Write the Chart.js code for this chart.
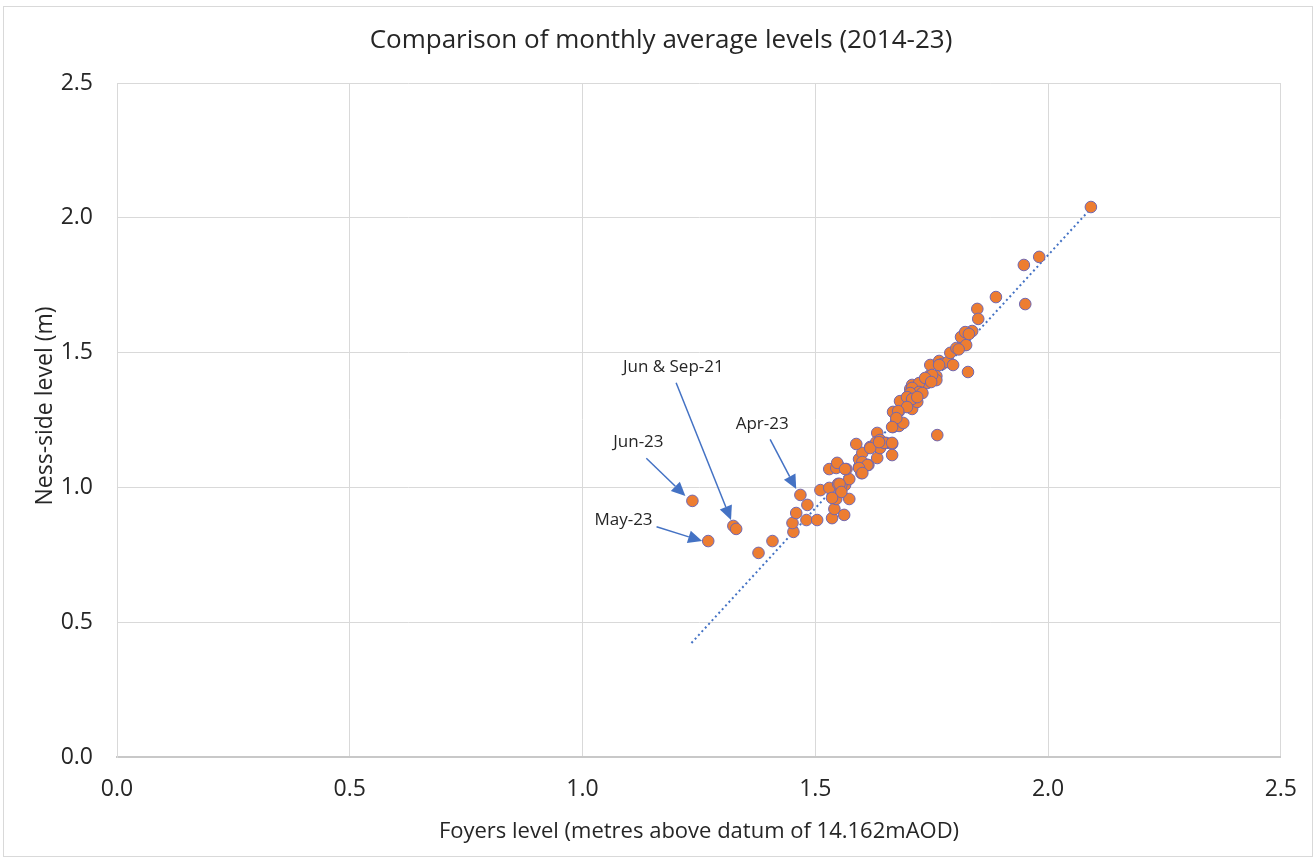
<!DOCTYPE html>
<html>
<head>
<meta charset="utf-8">
<script src="https://cdn.jsdelivr.net/npm/chart.js@4.4.1/dist/chart.umd.min.js"></script>
<style>
html,body{margin:0;padding:0;background:#ffffff;}
canvas{display:block;}
</style>
</head>
<body>
<canvas id="c" width="1316" height="859"></canvas>
<script>
// Foyers level (x) and Ness-side level (y), monthly averages 2014-23
const foyersLevel = [
  1.236,1.270,1.324,1.330,1.378,1.408,1.453,1.451,1.459,1.468,
  1.483,1.481,1.504,1.511,1.530,1.536,1.541,1.545,1.562,1.573,
  1.554,1.564,1.556,1.549,1.573,1.530,1.549,1.545,1.567,1.599,
  1.594,1.614,1.594,1.601,1.588,1.618,1.633,1.633,1.631,1.639,
  1.639,1.652,1.665,1.665,1.667,1.674,1.680,1.689,1.667,1.680,
  1.682,1.700,1.708,1.700,1.704,1.719,1.721,1.723,1.708,1.738,
  1.747,1.760,1.740,1.762,1.747,1.766,1.773,1.785,1.796,1.790,
  1.803,1.820,1.828,2.092,1.981,1.948,1.888,1.951,1.848,1.850,
  1.837,1.826,1.813,1.824,1.808,1.766,1.751,1.760,1.723,1.708,
  1.723,1.704,1.697,1.708,1.730,1.719,1.697,1.678,1.674,1.665,
  1.618,1.601,1.612,1.594,1.547,1.648,1.637,1.564,1.601,1.552,
  1.556,1.536,1.665,1.751,1.736,1.749,1.822,1.830
];
const nessLevel = [
  0.950,0.801,0.857,0.846,0.757,0.801,0.835,0.868,0.905,0.972,
  0.935,0.879,0.879,0.990,0.998,0.886,0.920,0.957,0.898,0.957,
  0.987,1.009,1.009,1.013,1.031,1.068,1.083,1.072,1.068,1.053,
  1.076,1.083,1.105,1.128,1.161,1.150,1.109,1.202,1.168,1.176,
  1.146,1.165,1.161,1.120,1.224,1.246,1.228,1.239,1.280,1.283,
  1.320,1.302,1.291,1.339,1.365,1.317,1.350,1.384,1.380,1.402,
  1.417,1.413,1.387,1.194,1.454,1.469,1.458,1.465,1.454,1.499,
  1.517,1.528,1.428,2.040,1.855,1.825,1.706,1.680,1.662,1.625,
  1.580,1.573,1.558,1.528,1.512,1.454,1.398,1.398,1.387,1.369,
  1.354,1.350,1.335,1.328,1.350,1.335,1.298,1.283,1.257,1.224,
  1.146,1.094,1.083,1.072,1.091,1.165,1.168,1.068,1.053,1.013,
  0.983,0.961,1.165,1.417,1.406,1.391,1.576,1.569
];
// Linear trendline end points
const trendX = [1.234, 2.095];
const trendY = [0.423, 2.040];
// Axis ticks
const tickValues = [0.0, 0.5, 1.0, 1.5, 2.0, 2.5];

// Callout labels (data coordinates)
const calloutText  = ['Jun & Sep-21', 'Apr-23', 'Jun-23', 'May-23'];
const calloutTextX = [1.195, 1.386, 1.120, 1.088];
const calloutTextY = [1.447, 1.235, 1.168, 0.879];
const arrowFromX   = [1.201, 1.403, 1.137, 1.159];
const arrowFromY   = [1.388, 1.178, 1.108, 0.854];
const arrowToX     = [1.319, 1.459, 1.221, 1.257];
const arrowToY     = [0.879, 0.994, 0.968, 0.801];

const FONT = '"Open Sans", "Noto Sans", "DejaVu Sans", sans-serif';

const points = foyersLevel.map((x, i) => ({x: x, y: nessLevel[i]}));
const trend = trendX.map((x, i) => ({x: x, y: trendY[i]}));

const decor = {
  id: 'decor',
  beforeDraw(chart) {
    const ctx = chart.ctx;
    ctx.save();
    ctx.fillStyle = '#ffffff';
    ctx.fillRect(0, 0, chart.width, chart.height);
    ctx.strokeStyle = '#d9d9d9';
    ctx.lineWidth = 1;
    ctx.strokeRect(3.5, 6.5, chart.width - 7, chart.height - 9);
    ctx.restore();
  },
  afterDatasetsDraw(chart) {
    const ctx = chart.ctx;
    const xs = chart.scales.x, ys = chart.scales.y;
    ctx.save();
    for (let i = 0; i < calloutText.length; i++) {
      const x1 = xs.getPixelForValue(arrowFromX[i]);
      const y1 = ys.getPixelForValue(arrowFromY[i]);
      const x2 = xs.getPixelForValue(arrowToX[i]);
      const y2 = ys.getPixelForValue(arrowToY[i]);
      const ang = Math.atan2(y2 - y1, x2 - x1);
      const headLen = 14, headW = 6.5;
      const bx = x2 - headLen * Math.cos(ang);
      const by = y2 - headLen * Math.sin(ang);
      ctx.strokeStyle = '#4472c4';
      ctx.fillStyle = '#4472c4';
      ctx.lineWidth = 1.5;
      ctx.beginPath();
      ctx.moveTo(x1, y1);
      ctx.lineTo(bx, by);
      ctx.stroke();
      ctx.beginPath();
      ctx.moveTo(x2, y2);
      ctx.lineTo(bx + headW * Math.sin(ang), by - headW * Math.cos(ang));
      ctx.lineTo(bx - headW * Math.sin(ang), by + headW * Math.cos(ang));
      ctx.closePath();
      ctx.fill();

      ctx.fillStyle = '#262626';
      ctx.font = '17px ' + FONT;
      ctx.textAlign = 'center';
      ctx.textBaseline = 'middle';
      ctx.fillText(calloutText[i], xs.getPixelForValue(calloutTextX[i]), ys.getPixelForValue(calloutTextY[i]));
    }
    ctx.restore();
  },
  afterDraw(chart) {
    const ctx = chart.ctx;
    ctx.save();
    ctx.fillStyle = '#262626';
    ctx.textAlign = 'center';
    ctx.textBaseline = 'middle';
    ctx.font = '26px ' + FONT;
    ctx.fillText('Comparison of monthly average levels (2014-23)', 661, 41);
    ctx.font = '22px ' + FONT;
    ctx.fillText('Foyers level (metres above datum of 14.162mAOD)', 699, 832);
    ctx.translate(45, 406);
    ctx.rotate(-Math.PI / 2);
    ctx.font = '23px ' + FONT;
    ctx.fillText('Ness-side level (m)', 0, 0);
    ctx.restore();
  }
};

new Chart(document.getElementById('c'), {
  type: 'scatter',
  data: {
    datasets: [
      {
        label: 'Monthly averages',
        data: points,
        backgroundColor: '#ed7d31',
        borderColor: '#7268b0',
        borderWidth: 1,
        pointRadius: 5.8,
        pointHoverRadius: 5.8,
        order: 0
      },
      {
        label: 'Trend',
        type: 'line',
        data: trend,
        borderColor: '#4472c4',
        borderWidth: 2,
        borderDash: [2, 3],
        pointRadius: 0,
        fill: false,
        order: 1
      }
    ]
  },
  options: {
    responsive: false,
    animation: false,
    devicePixelRatio: 1,
    layout: { padding: { top: 83, right: 34, left: 0, bottom: 0 } },
    plugins: {
      legend: { display: false },
      title: { display: false },
      tooltip: { enabled: false }
    },
    scales: {
      x: {
        type: 'linear',
        min: tickValues[0],
        max: tickValues[tickValues.length - 1],
        afterFit(s) { s.height = 102; },
        afterBuildTicks(s) { s.ticks = tickValues.map(v => ({value: v})); },
        ticks: {
          padding: 19,
          color: '#262626',
          font: { family: FONT, size: 23 },
          callback: v => Number(v).toFixed(1),
          maxRotation: 0
        },
        grid: { color: '#d9d9d9', lineWidth: 1, drawTicks: false },
        border: { color: '#c8c8c8', width: 2 }
      },
      y: {
        type: 'linear',
        min: tickValues[0],
        max: tickValues[tickValues.length - 1],
        afterFit(s) { s.width = 117; },
        afterBuildTicks(s) { s.ticks = tickValues.map(v => ({value: v})); },
        ticks: {
          padding: 24,
          color: '#262626',
          font: { family: FONT, size: 23 },
          callback: v => Number(v).toFixed(1)
        },
        grid: { color: '#d9d9d9', lineWidth: 1, drawTicks: false },
        border: { color: '#d9d9d9', width: 1 }
      }
    }
  },
  plugins: [decor]
});
</script>
</body>
</html>
